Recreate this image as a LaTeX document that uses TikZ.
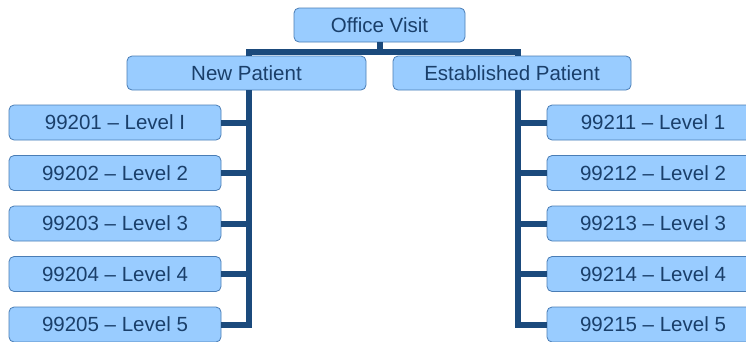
\documentclass[tikz,border=0pt]{standalone}
\usepackage{fontspec}
\setmainfont{Liberation Sans}
\usepackage{xcolor}
\usepackage{tikz}
\definecolor{boxfill}{HTML}{99CCFF}
\definecolor{boxline}{HTML}{4A7DB5}
\definecolor{boxtext}{HTML}{1A3F6A}
\definecolor{busline}{HTML}{1B4A7C}
\usetikzlibrary{positioning,calc}

\begin{document}
\begin{tikzpicture}[x=1pt, y=-1pt,
    codebox/.style={draw=boxline, fill=boxfill, rounded corners=5pt, line width=0.8pt,
        text=boxtext, font=\fontsize{20.5}{24}\selectfont, inner sep=0pt, minimum height=34pt},
    levelbox/.style={codebox, minimum width=212pt, minimum height=35pt},
    bus/.style={draw=busline, line width=6pt}]
    \useasboundingbox (0,0) rectangle (746,341);

    % Top levels
    \node[codebox, minimum width=171pt] (visit) at (379.5,25) {Office Visit};
    \node[codebox, minimum width=239pt] (np) at (246.5,73) {New Patient};
    \node[codebox, minimum width=238pt] (est) at (512,73) {Established Patient};
    \coordinate (npbus) at (249,52);
    \coordinate (estbus) at (517.5,52);
    \draw[bus] (visit.south) -- (visit.south |- npbus);
    \draw[bus] (npbus |- np.north) -- (npbus) -- (estbus) -- (estbus |- est.north);

    % Level codes
    \foreach \lev [count=\k] in {I,2,3,4,5} {
        \node[levelbox] (new\k) at (115,{72+50.5*\k}) {9920\k\ – Level \lev};
        \node[levelbox] (old\k) at (653,{72+50.5*\k}) {9921\k\ – Level \k};
    }
    \foreach \k in {1,2,3,4} {
        \draw[bus] (new\k.east) -- (npbus |- new\k.east);
        \draw[bus] (old\k.west) -- (estbus |- old\k.west);
    }
    \draw[bus] (npbus |- np.south) -- (npbus |- new5.east) -- (new5.east);
    \draw[bus] (estbus |- est.south) -- (estbus |- old5.west) -- (old5.west);
\end{tikzpicture}
\end{document}
